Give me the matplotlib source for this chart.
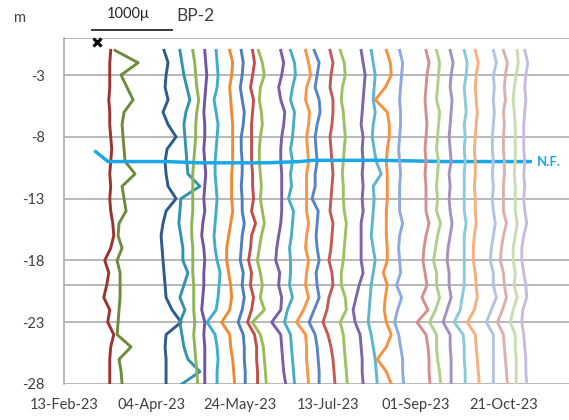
import matplotlib
matplotlib.use('Agg')
import matplotlib.pyplot as plt
import matplotlib.dates as md
import numpy as np
import datetime as dt

# inclinometer BP-2 : cumulative displacement profiles, one per reading date
depths = [-1, -2, -3, -4, -5, -6, -7, -8, -9, -10, -11, -12, -13, -14,
          -15, -16, -17, -18, -19, -20, -21, -22, -23, -24, -25, -26, -27, -28]

reading_dates = ['2023-03-11', '2023-03-18', '2023-04-12', '2023-04-21', '2023-04-30',
                 '2023-05-04', '2023-05-11', '2023-05-21', '2023-05-27', '2023-06-03',
                 '2023-06-08', '2023-06-19', '2023-06-24', '2023-07-02', '2023-07-08',
                 '2023-07-17', '2023-07-24', '2023-08-02', '2023-08-10', '2023-08-18',
                 '2023-08-25', '2023-09-09', '2023-09-15', '2023-09-21', '2023-09-29',
                 '2023-10-07', '2023-10-15', '2023-10-23', '2023-10-28', '2023-11-03']

# displacement (micron) at each depth
mar11 = [12, 0, 0, 0, -12, 0, 0, 12, 25, 12, 0, 12, 0, 12, 38, 50, 12, -62, -12, -38, -75, 0, -25, 50, 12, 0, 0, 0]
mar18 = [-88, 200, -12, 62, 138, 25, 0, 12, 25, 38, 162, 0, 25, 50, -38, -50, 0, -62, -25, -25, -25, -38, -50, -62, 112, -38, -12, 0]
apr12 = [-25, 25, 0, -12, 25, -38, 25, 125, 12, -12, 0, 25, 125, 0, -38, -62, -50, -38, -25, -12, 0, 75, 188, 0, -12, 0, 0, 0]
apr21 = [-25, 0, 25, 62, 100, 50, 25, 38, 50, 62, 75, 225, -12, -25, -38, -12, 12, 12, 75, 25, -25, 38, -25, 0, 25, 75, 225, 0]
apr30 = [-62, -38, -25, -12, 12, -12, -25, -25, -38, -50, -62, -62, -62, -62, -75, -75, -62, -62, -62, -50, -50, -50, -38, -50, -38, -25, -12, 0]
may04 = [0, 12, 25, 12, 0, -12, 0, 0, -12, 0, 12, 0, -12, 0, -25, -38, -12, 0, -12, -12, -25, -38, 0, -12, 0, 0, 0, 0]
may11 = [-12, 0, 12, 0, -38, -12, 12, 0, -12, -25, -25, -12, 0, -12, -25, -38, -25, 0, 38, 25, 12, -12, -125, -25, 0, 12, 0, 0]
may21 = [-62, -25, -38, -62, -50, -38, -25, -25, -25, -25, -38, -38, -38, -25, -50, -75, -100, -100, -75, -50, -38, -62, -162, -62, -50, -25, -12, 0]
may27 = [-50, -25, -38, -62, -38, -12, -25, -50, -50, -38, -38, -50, -38, -38, -12, -38, -50, -62, -25, -38, -12, -38, -88, -25, -12, -12, 0, 0]
jun03 = [-62, -38, -62, -88, -50, -62, -75, -75, -75, -75, -62, -62, -50, -75, -25, -75, -88, -112, -75, -88, -50, -75, -125, -38, -12, -12, 0, 0]
jun08 = [-100, -50, -25, -75, -88, -62, -50, -75, -88, -88, -75, -62, -75, -50, -25, -62, -88, -112, -75, -50, -75, -25, -175, -75, -38, -25, -12, 0]
jun19 = [-62, -25, -50, -88, -62, -12, -25, -50, -62, -62, -50, -50, -50, -50, -62, -88, -112, -125, -75, -88, -50, -62, -175, -62, -50, -38, -25, 0]
jun24 = [-50, 0, 12, -25, -50, 0, -12, -25, -50, -25, -50, -38, -75, -12, -25, -38, -62, -50, -50, -62, -25, -88, -125, -50, -38, -25, -12, 0]
jul02 = [-38, 0, 25, -25, -38, 12, 0, -25, -12, 0, -25, -25, -25, -25, 0, -25, -38, 0, -25, -38, 0, -62, -150, -38, -25, -25, -12, 0]
jul08 = [-62, 0, -25, -50, 0, 12, -25, -50, -38, -25, -50, -50, -88, -12, -25, -38, -25, 0, -38, -25, 0, -62, -125, -50, -25, -12, 0, 0]
jul17 = [-62, -25, -50, -62, -25, -25, -38, -62, -50, -38, -25, -38, -50, -62, -25, -38, -50, -75, -38, -25, -75, -100, -150, -88, -50, -25, -12, 0]
jul24 = [-88, -38, -25, -62, -75, -50, -38, -25, -38, -50, -62, -50, -50, -38, -12, -25, -38, -50, -75, -75, -25, -12, -88, -50, -38, -25, -12, 0]
aug02 = [-25, 0, 25, 12, 0, -12, -25, 0, -12, 0, -12, 0, -12, 0, -25, -25, -25, -25, 0, -50, -88, -125, -100, -38, -25, -12, -12, 0]
aug10 = [-75, -50, -25, -38, -50, -25, -50, -62, -38, -12, 50, -50, -38, -50, -62, -75, -50, -25, -50, -75, -88, -100, -112, -75, -50, -25, -12, 0]
aug18 = [-62, -12, 0, -75, -200, -50, -25, -25, -50, -62, -50, -50, -50, -62, -62, -62, -50, -50, -100, -50, -75, -88, -62, 0, -62, -175, -62, 0]
aug25 = [-50, -12, -25, -38, -50, -38, -38, -50, -62, -50, -38, -50, -50, -50, -12, -50, -62, -50, -38, -88, -25, -75, -112, -62, -38, -12, -12, 0]
sep09 = [-50, -12, -38, -50, -62, -50, -38, -50, -62, -50, -62, -50, -50, -50, -12, -50, -75, -88, -62, -38, -100, -25, -162, -50, -25, -12, -12, 0]
sep15 = [-50, -12, -25, -38, -50, -12, -25, -38, -50, -25, -38, -50, -38, -50, 0, -38, -62, -88, -50, -50, -12, -62, -138, -50, -50, -38, -12, 0]
sep21 = [-12, 25, 0, -12, 12, 0, -12, -25, -12, 0, -25, -12, -25, -12, 12, -12, -38, -50, -25, -25, 0, -50, -100, -12, -12, 0, 0, 0]
sep29 = [-12, 25, 12, -12, 0, 12, -12, 0, -12, 0, -12, -12, -12, -12, 12, -12, -12, -12, -12, -12, -38, -62, -138, -25, -12, -12, 0, 0]
oct07 = [-50, -12, -38, -50, -38, -25, -38, -50, -62, -50, -50, -62, -50, -50, -38, -62, -75, -75, -50, -38, -25, -62, -150, -50, -38, -25, -12, 0]
oct15 = [0, 38, 0, 12, 0, 12, 0, -12, -12, 0, -12, 0, -12, 0, 25, 0, -25, -38, 0, 0, 38, -25, -88, 0, 0, 0, 0, 0]
oct23 = [-50, 0, -25, -38, -25, -50, -38, -50, -50, -38, -38, -50, -50, -50, -12, -50, -75, -88, -50, -38, -12, -62, -125, -50, -38, -25, -12, 0]
oct28 = [12, 25, 0, -25, -38, -25, -12, -12, -12, -12, -25, -12, -12, -12, 12, -12, -38, -38, -12, -25, 12, -38, -75, -12, -12, 0, 0, 0]
nov03 = [-25, 12, -12, -25, -12, -25, -38, -38, -38, -25, -38, -25, -38, -25, 0, -38, -62, -62, -38, -12, 0, -50, -62, -38, -25, -12, -12, 0]

profiles = [mar11, mar18, apr12, apr21, apr30, may04, may11, may21, may27, jun03,
            jun08, jun19, jun24, jul02, jul08, jul17, jul24, aug02, aug10, aug18,
            aug25, sep09, sep15, sep21, sep29, oct07, oct15, oct23, oct28, nov03]

colors = ['#9b3431', '#6e8b3d', '#2f5a8c', '#3293ae', '#8db553', '#7255a0', '#3faecb', '#f08a32',
          '#4f7dbf', '#c0504d', '#9bbb59', '#7a5fa8', '#4bacc6', '#f79646', '#5b84c4', '#c45a57',
          '#9ec25e', '#7e66a8', '#5fb5cd', '#f5913f', '#8ea9db', '#d4908e', '#afcf8a', '#a393c4',
          '#8acbdb', '#f6b080', '#b4c2e4', '#ddb0b0', '#c8deb0', '#c6bedd']

# groundwater level (N.F.)
nf_dates = ['2023-03-03', '2023-03-10', '2023-04-12', '2023-05-01', '2023-06-08',
            '2023-06-27', '2023-07-04', '2023-08-12', '2023-09-19', '2023-11-05']
nf_levels = [-9.2, -10.0, -10.0, -10.1, -10.1, -10.0, -9.9, -9.9, -10.0, -10.0]

grid_levels = [0, -3, -8, -13, -18, -20, -23, -28]
ytick_vals = [-3, -8, -13, -18, -23, -28]

DAYS_PER_MICRON = 45.5 / 1000.0   # horizontal scale: 1000 micron spans 45.5 days


def to_num(s):
    return md.date2num(dt.date.fromisoformat(s))


plt.rcParams['font.family'] = ['Lato', 'DejaVu Sans']

fig = plt.figure(figsize=(5.69, 4.20), dpi=100)
ax = fig.add_axes([64 / 569, 1 - 384 / 420, 505 / 569, 346 / 420])

x0 = to_num('2023-02-13')
ax.set_xlim(x0, x0 + 287)
ax.set_ylim(-28, 0)

for y in grid_levels:
    ax.axhline(y, color='#a6a6a6', lw=1.1, zorder=1)

for i, (d, prof) in enumerate(zip(reading_dates, profiles)):
    xs = to_num(d) + np.array(prof) * DAYS_PER_MICRON
    ax.plot(xs, depths, color=colors[i], lw=2.1, solid_joinstyle='round',
            zorder=2 if i < 20 else 4)

nf_x = [to_num(s) for s in nf_dates]
ax.plot(nf_x, nf_levels, color='#1aa9e6', lw=2.5, zorder=3)
ax.text(x0 + 268.5, -10.05, 'N.F.', color='#1aa9e6', fontsize=9.5,
        fontweight='bold', va='center', ha='left')

# scale bar and reference mark above the plot
sb_start = to_num('2023-03-01')
ax.plot([sb_start, sb_start + 1000 * DAYS_PER_MICRON], [0.65, 0.65],
        color='#262626', lw=1.3, clip_on=False)
ax.plot([to_num('2023-03-04')], [-0.3], marker='x', color='black',
        ms=6, mew=2.2, clip_on=False, zorder=5)

for side in ['top', 'right', 'bottom']:
    ax.spines[side].set_visible(False)
ax.spines['left'].set_color('#a6a6a6')
ax.spines['left'].set_linewidth(1.1)

ax.set_yticks(ytick_vals)
ax.set_yticklabels([str(v) for v in ytick_vals])
xticks = [x0 + 50 * k for k in range(6)]
ax.set_xticks(xticks)
ax.xaxis.set_major_formatter(md.DateFormatter('%d-%b-%y'))
ax.tick_params(axis='both', length=0, labelsize=10.5, colors='#404040')
ax.tick_params(axis='y', pad=14)
ax.tick_params(axis='x', pad=10)

fig.text(20 / 569, 1 - 18 / 420, 'm', fontsize=10.5, color='#404040', va='center', ha='center')
fig.text(128 / 569, 1 - 14 / 420, '1000μ', fontsize=10.5, color='#262626', va='center', ha='center')
fig.text(176 / 569, 1 - 16 / 420, 'BP-2', fontsize=12.5, color='#404040', va='center', ha='left')

fig.savefig('out.png', dpi=100)
